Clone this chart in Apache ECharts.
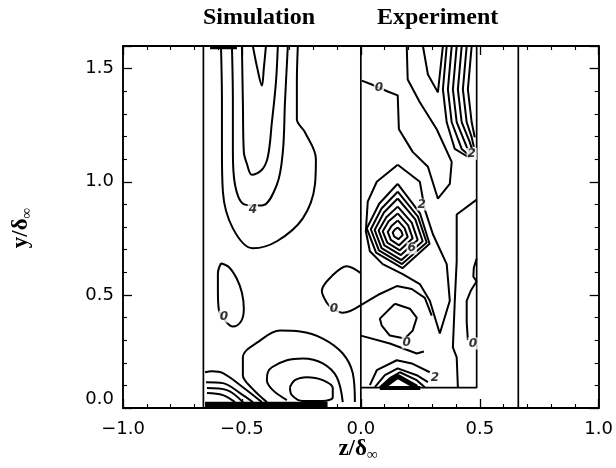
<!DOCTYPE html>
<html><head><meta charset="utf-8">
<script src="https://cdn.jsdelivr.net/npm/echarts@6/dist/echarts.min.js"></script>
<style>html,body{margin:0;padding:0;background:#fff}#c{width:616px;height:468px}</style>
</head><body><div id="c"></div>
<script>
// ---- axis ranges / tick labels ----
const xRange = [-1, 1];
const yRange = [0, 1.6];
const xTickLabels = ['\u22121.0', '\u22120.5', '0.0', '0.5', '1.0'];
const yTickLabels = ['0.0', '0.5', '1.0', '1.5'];

// ---- panel boundaries (data units) ----
const panelLeft = [[-0.662, 0], [-0.662, 1.6]];
const panelMid = [[0, 0], [0, 1.6]];
const panelRight = [[0.662, 0], [0.662, 1.6]];
const expBox = [[0, 0.09], [0.487, 0.09], [0.487, 1.6]];

// ---- Simulation contours ----
const simV = [[-0.454,1.6],[-0.435,1.50],[-0.416,1.425],[-0.408,1.50],[-0.399,1.6]];
const simA = [[-0.500,1.6],[-0.496,1.351],[-0.492,1.132],[-0.479,1.079],[-0.458,1.031],[-0.416,1.053],[-0.391,1.110],[-0.374,1.263],[-0.357,1.439],[-0.349,1.6]];
const simB = [[-0.542,1.6],[-0.538,1.351],[-0.538,1.132],[-0.529,0.987],[-0.487,0.899],[-0.416,0.895],[-0.353,0.987],[-0.328,1.132],[-0.319,1.351],[-0.307,1.6]];
const simC = [[-0.588,1.6],[-0.584,1.351],[-0.584,1.132],[-0.580,0.956],[-0.538,0.794],[-0.454,0.706],[-0.353,0.737],[-0.244,0.838],[-0.193,0.987],[-0.189,1.101],[-0.235,1.219],[-0.269,1.276],[-0.269,1.439],[-0.265,1.6]];
const simLoop0 = [[-0.588,0.640],[-0.555,0.623],[-0.521,0.570],[-0.500,0.509],[-0.492,0.439],[-0.504,0.382],[-0.538,0.360],[-0.563,0.377],[-0.597,0.434],[-0.601,0.518],[-0.601,0.596],[-0.588,0.640]];
const simZeroRight = [[0,0.596],[-0.059,0.627],[-0.122,0.583],[-0.164,0.518],[-0.143,0.465],[-0.118,0.439],[-0.076,0.421],[0,0.455]];
const simOuter = [[-0.395,0.026],[-0.458,0.088],[-0.496,0.145],[-0.496,0.224],[-0.424,0.298],[-0.340,0.342],[-0.256,0.338],[-0.160,0.307],[-0.076,0.241],[-0.034,0.154],[-0.025,0.026]];
const simMid = [[-0.311,0.035],[-0.370,0.079],[-0.395,0.123],[-0.391,0.158],[-0.374,0.180],[-0.311,0.211],[-0.244,0.219],[-0.160,0.197],[-0.101,0.136],[-0.076,0.026]];
const simInner = [[-0.298,0.092],[-0.277,0.123],[-0.227,0.136],[-0.160,0.123],[-0.118,0.088],[-0.118,0.048],[-0.160,0.031],[-0.244,0.031],[-0.290,0.057],[-0.298,0.092]];
const simWall1 = [[-0.655,0.158],[-0.626,0.162],[-0.580,0.154],[-0.496,0.092],[-0.416,0.026]];
const simWall2 = [[-0.651,0.114],[-0.580,0.110],[-0.508,0.066],[-0.454,0.026]];
const simWall3 = [[-0.647,0.088],[-0.563,0.079],[-0.496,0.026]];
const simWall4 = [[-0.647,0.066],[-0.580,0.057],[-0.529,0.026]];
const simFloor = [[-0.655,0.012],[-0.14,0.012]];
const simTop = [[-0.634,1.592],[-0.521,1.592]];

// ---- Experiment contours ----
const expZeroTop = [[0.004,1.447],[0.046,1.430],[0.113,1.399],[0.155,1.382],[0.160,1.232],[0.218,1.132],[0.282,1.066],[0.324,0.925],[0.374,0.991],[0.382,1.088],[0.319,1.232],[0.248,1.351],[0.197,1.452],[0.193,1.6]];
const expV = [[0.261,1.6],[0.282,1.474],[0.324,1.395],[0.332,1.474],[0.345,1.6]];
const expD1 = [[0.361,1.6],[0.345,1.408],[0.361,1.263],[0.395,1.145],[0.458,1.105]];
const expD2 = [[0.382,1.6],[0.366,1.408],[0.382,1.263],[0.424,1.145],[0.462,1.110]];
const expD3 = [[0.403,1.6],[0.387,1.408],[0.403,1.263],[0.445,1.154],[0.466,1.118]];
const expD4 = [[0.424,1.6],[0.408,1.408],[0.424,1.263],[0.458,1.175],[0.471,1.132]];
const expD5 = [[0.445,1.6],[0.429,1.408],[0.445,1.263],[0.466,1.197],[0.475,1.154]];
const expD6 = [[0.466,1.6],[0.450,1.408],[0.466,1.263],[0.479,1.197]];
const expRing1 = [[0.155,0.798],[0.170,0.782],[0.176,0.764],[0.158,0.746],[0.140,0.758],[0.134,0.775],[0.142,0.788],[0.155,0.798]];
const expRing2 = [[0.155,0.829],[0.184,0.795],[0.197,0.756],[0.161,0.719],[0.126,0.743],[0.113,0.778],[0.130,0.806],[0.155,0.829]];
const expRing3 = [[0.155,0.860],[0.199,0.807],[0.218,0.750],[0.164,0.697],[0.111,0.731],[0.092,0.781],[0.117,0.825],[0.155,0.860]];
const expRing4 = [[0.155,0.890],[0.214,0.819],[0.239,0.743],[0.168,0.676],[0.099,0.719],[0.075,0.784],[0.107,0.843],[0.155,0.890]];
const expRing5 = [[0.155,0.926],[0.229,0.834],[0.260,0.737],[0.171,0.654],[0.087,0.707],[0.058,0.787],[0.097,0.864],[0.155,0.926]];
const expRing6 = [[0.155,0.956],[0.240,0.846],[0.277,0.731],[0.173,0.636],[0.076,0.697],[0.042,0.790],[0.087,0.882],[0.155,0.956]];
const expRing7 = [[0.155,0.991],[0.249,0.860],[0.289,0.726],[0.175,0.618],[0.064,0.687],[0.025,0.794],[0.077,0.903],[0.155,0.991]];
const expOuter = [[0.155,1.075],[0.067,1.000],[0.029,0.912],[0.021,0.781],[0.038,0.693],[0.092,0.636],[0.176,0.592],[0.248,0.548],[0.290,0.474],[0.332,0.329],[0.374,0.474],[0.361,0.636],[0.303,0.768],[0.269,0.877],[0.248,1.000],[0.155,1.075]];
const expRight1 = [[0.487,0.921],[0.403,0.855],[0.403,0.649],[0.395,0.474],[0.387,0.268],[0.403,0.224],[0.408,0.092]];
const expRight2 = [[0.487,0.560],[0.462,0.518],[0.445,0.474],[0.445,0.380],[0.450,0.300]];
const expEdgeLoop = [[0.487,0.660],[0.475,0.620],[0.473,0.580],[0.487,0.560]];
const expLow1 = [[0,0.455],[0.080,0.504],[0.151,0.539],[0.214,0.526],[0.269,0.487],[0.298,0.408]];
const expPent = [[0.143,0.461],[0.206,0.439],[0.235,0.399],[0.218,0.342],[0.185,0.307],[0.122,0.320],[0.088,0.364],[0.080,0.395],[0.143,0.461]];
const expLow2 = [[0,0.320],[0.122,0.285],[0.235,0.241],[0.265,0.250]];
const expArch1 = [[0.038,0.101],[0.067,0.167],[0.151,0.211],[0.214,0.197],[0.290,0.158]];
const expArch2 = [[0.059,0.092],[0.101,0.145],[0.155,0.175],[0.235,0.145],[0.282,0.114]];
const expArch3 = [[0.080,0.092],[0.122,0.132],[0.164,0.158],[0.235,0.123],[0.269,0.092]];
const expBlob = [[0.092,0.092],[0.155,0.140],[0.235,0.092]];
const expBlobBase = [[0.080,0.088],[0.250,0.088]];

// ---- contour level labels [x, y, text] ----
const contourLabels = [
  [-0.454,0.877,'4'], [-0.576,0.404,'0'], [-0.113,0.439,'0'],
  [0.076,1.417,'0'], [0.256,0.899,'2'], [0.214,0.706,'6'],
  [0.193,0.289,'0'], [0.471,0.285,'0'], [0.311,0.132,'2'], [0.466,1.123,'2']
];

const smoothLines = [simV, simA, simB, simC, simLoop0, simZeroRight, simOuter, simMid, simInner, simWall1, simWall2, simWall3, simWall4];
const sharpLines = [expZeroTop, expV, expD1, expD2, expD3, expD4, expD5, expD6, expRing1, expRing2, expRing3, expRing4, expRing5, expRing6, expRing7, expOuter, expRight1, expRight2, expEdgeLoop, expLow1, expPent, expLow2, expArch1, expArch2, expArch3];
const frameLines = [panelLeft, panelMid, panelRight, expBox];
const heavyLines = [[simFloor, 7], [simTop, 3], [expBlob, 5], [expBlobBase, 4]];

const series = [];
function addLine(data, width, smooth) {
  series.push({type: 'line', data: data, showSymbol: false, smooth: smooth ? 0.35 : false,
    lineStyle: {color: '#000', width: width}, silent: true, animation: false, z: 3});
}
frameLines.forEach(d => addLine(d, 1.7, false));
smoothLines.forEach(d => addLine(d, 2, true));
sharpLines.forEach(d => addLine(d, 2, false));
heavyLines.forEach(h => addLine(h[0], h[1], false));
series.push({type: 'scatter', data: contourLabels, symbolSize: 0, silent: true, animation: false, z: 5,
  label: {show: true, position: 'inside', formatter: p => p.data[2], color: '#000', fontSize: 12,
    fontStyle: 'italic', fontWeight: 'bold', fontFamily: 'DejaVu Sans', backgroundColor: '#fff', padding: [0, 1]}});

const xFmt = v => { const i = [-1, -0.5, 0, 0.5, 1].findIndex(t => Math.abs(t - v) < 1e-6); return i >= 0 ? xTickLabels[i] : ''; };
const yFmt = v => { const i = [0, 0.5, 1, 1.5].findIndex(t => Math.abs(t - v) < 1e-6); return i >= 0 ? yTickLabels[i] : ''; };

const tickCommon = {show: true, inside: true, length: 9, lineStyle: {color: '#000', width: 1.3}};
const minorCommon = {show: true, splitNumber: 5, length: 4, lineStyle: {color: '#000', width: 1.1}};
const lineCommon = {show: true, onZero: false, lineStyle: {color: '#000', width: 1.9}};
const labelCommon = {color: '#000', fontSize: 18, fontFamily: 'DejaVu Sans'};

const option = {
  backgroundColor: '#fff',
  animation: false,
  grid: {left: 123, right: 17, top: 46, bottom: 60},
  xAxis: [
    {type: 'value', min: xRange[0], max: xRange[1], interval: 0.5, position: 'bottom',
      axisLine: lineCommon, axisTick: tickCommon, minorTick: minorCommon, splitLine: {show: false},
      axisLabel: Object.assign({formatter: xFmt, margin: 12}, labelCommon)},
    {type: 'value', min: xRange[0], max: xRange[1], interval: 0.5, position: 'top',
      axisLine: lineCommon, axisTick: tickCommon, minorTick: minorCommon, splitLine: {show: false},
      axisLabel: {show: false}}
  ],
  yAxis: [
    {type: 'value', min: yRange[0], max: yRange[1], interval: 0.5, position: 'left',
      axisLine: lineCommon, axisTick: tickCommon, minorTick: minorCommon, splitLine: {show: false},
      axisLabel: Object.assign({formatter: yFmt, margin: 9, showMaxLabel: false, verticalAlignMinLabel: 'bottom'}, labelCommon)},
    {type: 'value', min: yRange[0], max: yRange[1], interval: 0.5, position: 'right',
      axisLine: lineCommon, axisTick: tickCommon, minorTick: minorCommon, splitLine: {show: false},
      axisLabel: {show: false}}
  ],
  graphic: [
    {type: 'text', left: 265 - 62, top: 6, style: {text: 'Simulation', font: 'bold 24px "Liberation Serif"', fill: '#000'}},
    {type: 'text', left: 441 - 64, top: 6, style: {text: 'Experiment', font: 'bold 24px "Liberation Serif"', fill: '#000'}},
    {type: 'text', x: 358, y: 449, style: {text: '{a|z/δ}{b|∞}', align: 'center', verticalAlign: 'middle', fill: '#000',
      rich: {a: {font: 'bold 23px "Liberation Serif"', fill: '#000'}, b: {font: 'bold 15px "Liberation Serif"', fill: '#000', padding: [12, 0, 0, 0]}}}},
    {type: 'text', x: 21, y: 228, rotation: Math.PI / 2, style: {text: '{a|y/δ}{b|∞}', align: 'center', verticalAlign: 'middle', fill: '#000',
      rich: {a: {font: 'bold 23px "Liberation Serif"', fill: '#000'}, b: {font: 'bold 15px "Liberation Serif"', fill: '#000', padding: [12, 0, 0, 0]}}}}
  ],
  series: series
};
const chart = echarts.init(document.getElementById('c'), null, {renderer: 'canvas'});
chart.setOption(option);
</script></body></html>
